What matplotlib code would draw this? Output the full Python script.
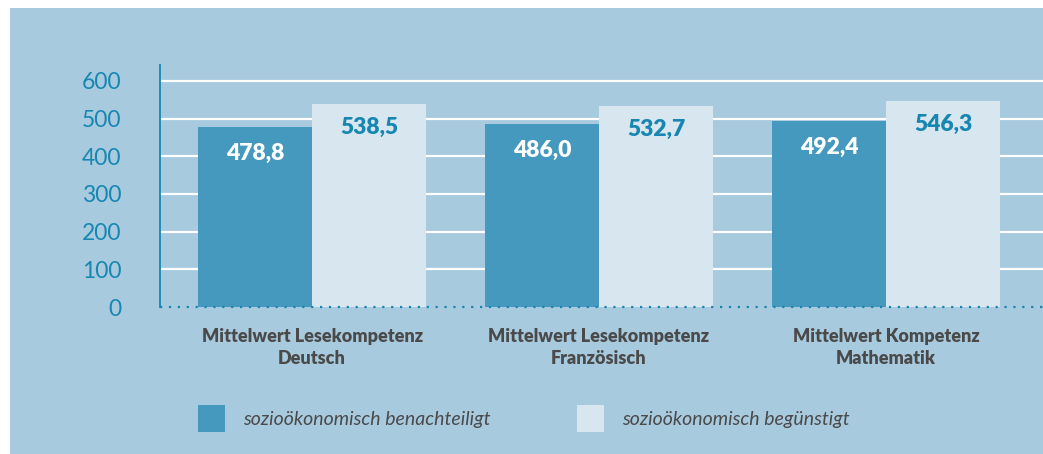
import matplotlib.pyplot as plt
from matplotlib.patches import Rectangle
import numpy as np

# data
categories = ['Mittelwert Lesekompetenz\nDeutsch',
              'Mittelwert Lesekompetenz\nFranzösisch',
              'Mittelwert Kompetenz\nMathematik']
benachteiligt = [478.8, 486.0, 492.4]
beguenstigt = [538.5, 532.7, 546.3]
series_names = ['sozioökonomisch benachteiligt', 'sozioökonomisch begünstigt']
yticks = [0, 100, 200, 300, 400, 500, 600]

BG = '#a8cadf'
DARK = '#4699be'
LIGHT = '#d8e6f0'
TEAL = '#1787b1'
GRAY = '#4a4a4a'

plt.rcParams['font.family'] = ['Lato', 'DejaVu Sans']

W, H = 1043, 454
fig = plt.figure(figsize=(W / 100, H / 100), dpi=100)
fig.patch.set_facecolor('white')
fig.add_artist(Rectangle((10 / W, 0), 1, 1 - 8 / H, transform=fig.transFigure,
                         facecolor=BG, edgecolor='none', zorder=-10))

ax = fig.add_axes([160 / W, 1 - 307 / H, 1 - 160 / W, 242 / H])
ax.set_facecolor('none')

x = np.arange(len(categories))
bw = 0.397
ax.bar(x - bw / 2, benachteiligt, bw, color=DARK, zorder=3)
ax.bar(x + bw / 2, beguenstigt, bw, color=LIGHT, zorder=3)

for xi, v in zip(x, benachteiligt):
    ax.annotate(f'{v:.1f}'.replace('.', ','), (xi - bw / 2, v), xytext=(0, -19),
                textcoords='offset points', ha='center', va='center',
                color='white', fontsize=16.5, fontweight='heavy', zorder=4)
for xi, v in zip(x, beguenstigt):
    ax.annotate(f'{v:.1f}'.replace('.', ','), (xi + bw / 2, v), xytext=(0, -17),
                textcoords='offset points', ha='center', va='center',
                color=TEAL, fontsize=16.5, fontweight='heavy', zorder=4)

ax.set_xlim(-0.53, 2.547)
ax.set_ylim(0, 642)

# gridlines (white) except zero, which is dotted teal
for t in yticks[1:]:
    ax.axhline(t, color='white', lw=1.6, zorder=1)
ax.axhline(0, color=TEAL, lw=1.6, ls=(0, (1, 3)), zorder=5, clip_on=False)

ax.set_yticks(yticks)
ax.set_yticklabels([str(t) for t in yticks], color=TEAL, fontsize=16.5)
ax.tick_params(axis='y', length=0, pad=28)
ax.set_xticks(x)
ax.set_xticklabels(categories, color=GRAY, fontsize=13, fontweight='heavy',
                   linespacing=1.35)
ax.tick_params(axis='x', length=0, pad=15)

for s in ['top', 'right', 'bottom']:
    ax.spines[s].set_visible(False)
ax.spines['left'].set_color(TEAL)
ax.spines['left'].set_linewidth(1.3)

# legend
for (sx, tx), name, col in zip([(198, 243), (577, 622)], series_names, [DARK, LIGHT]):
    fig.add_artist(Rectangle((sx / W, 1 - 432 / H), 27 / W, 27 / H,
                             transform=fig.transFigure, facecolor=col, edgecolor='none'))
    fig.text(tx / W, 1 - 419 / H, name, ha='left', va='center', color=GRAY,
             fontsize=14, fontstyle='italic')

fig.savefig('out.png', dpi=100)
